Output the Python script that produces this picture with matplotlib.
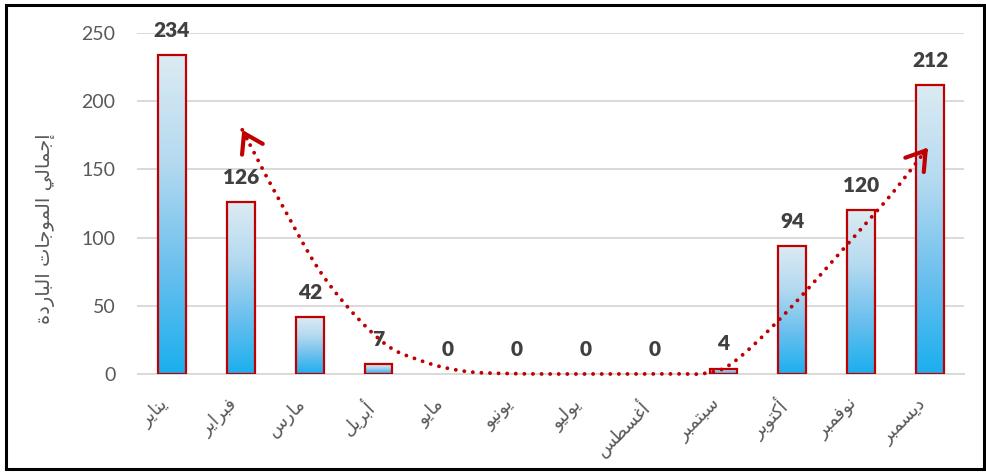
import numpy as np
import matplotlib
matplotlib.use("Agg")
import matplotlib.pyplot as plt
from matplotlib.colors import LinearSegmentedColormap
from matplotlib.patches import Rectangle

# ---- data -------------------------------------------------------------
months = ['يناير', 'فبراير', 'مارس', 'أبريل', 'مايو', 'يونيو',
          'يوليو', 'أغسطس', 'سبتمبر', 'أكتوبر', 'نوفمبر', 'ديسمبر']
cold_waves = [234, 126, 42, 7, 0, 0, 0, 0, 4, 94, 120, 212]
y_ticks = [0, 50, 100, 150, 200, 250]
y_title = 'إجمالي الموجات الباردة'

# hand-drawn seasonal trend guide (annotation path, data coordinates)
trend_x = [1.02, 1.52, 2.22, 3.02, 3.60, 4.22, 4.90, 6.00, 7.20, 7.76,
           8.17, 8.92, 9.94, 10.46, 10.97]
trend_y = [179, 131, 70, 25, 10, 2.2, 0.3, 0, 0.2, 0.7,
           9.5, 45.5, 103, 133, 166]

# ---- simple Arabic shaping (contextual forms + RTL order) -------------
_ISO = {  # letter: (isolated presentation form, dual-joining)
    'ا': (0xFE8D, False), 'أ': (0xFE83, False), 'إ': (0xFE87, False),
    'آ': (0xFE81, False), 'ب': (0xFE8F, True), 'ة': (0xFE93, False),
    'ت': (0xFE95, True), 'ث': (0xFE99, True), 'ج': (0xFE9D, True),
    'ح': (0xFEA1, True), 'خ': (0xFEA5, True), 'د': (0xFEA9, False),
    'ذ': (0xFEAB, False), 'ر': (0xFEAD, False), 'ز': (0xFEAF, False),
    'س': (0xFEB1, True), 'ش': (0xFEB5, True), 'ص': (0xFEB9, True),
    'ض': (0xFEBD, True), 'ط': (0xFEC1, True), 'ظ': (0xFEC5, True),
    'ع': (0xFEC9, True), 'غ': (0xFECD, True), 'ف': (0xFED1, True),
    'ق': (0xFED5, True), 'ك': (0xFED9, True), 'ل': (0xFEDD, True),
    'م': (0xFEE1, True), 'ن': (0xFEE5, True), 'ه': (0xFEE9, True),
    'و': (0xFEED, False), 'ى': (0xFEEF, False), 'ي': (0xFEF1, True),
}


def shape_ar(text):
    out = []
    n = len(text)
    for i, ch in enumerate(text):
        if ch not in _ISO:
            out.append(ch)
            continue
        base, dual = _ISO[ch]
        prev = text[i - 1] if i > 0 else None
        nxt = text[i + 1] if i < n - 1 else None
        j_prev = prev in _ISO and _ISO[prev][1]
        j_next = dual and nxt in _ISO
        if j_prev and j_next:
            code = base + 3
        elif j_prev:
            code = base + 1
        elif j_next:
            code = base + 2
        else:
            code = base
        out.append(chr(code))
    return ''.join(out)[::-1]


# ---- figure -----------------------------------------------------------
W, H, DPI = 987, 472, 100
fig = plt.figure(figsize=(W / DPI, H / DPI), dpi=DPI, facecolor='white')
ax = fig.add_axes([137.5 / W, 98 / H, 827 / W, 341 / H])

grey_txt = '#595959'
red = '#C00000'
ar_font = ['DejaVu Sans']
num_font = ['Lato', 'DejaVu Sans']

x = np.arange(len(months))
bar_w = 0.4
ax.set_xlim(-0.5, len(months) - 0.5)
ax.set_ylim(0, 250)

grad_cmap = LinearSegmentedColormap.from_list(
    'coldbar', ['#1AAFEE', '#6CC0EE', '#B5DAF0', '#DCEBF3'])
grad = np.linspace(0, 1, 256).reshape(-1, 1)

for xi, v in zip(x, cold_waves):
    if v <= 0:
        continue
    ax.imshow(grad, cmap=grad_cmap, origin='lower', aspect='auto',
              extent=[xi - bar_w / 2, xi + bar_w / 2, 0, v],
              zorder=2, interpolation='bicubic')
    ax.add_patch(Rectangle((xi - bar_w / 2, 0), bar_w, v, facecolor='none',
                           edgecolor=red, linewidth=1.6, zorder=3))

ax.set_xlim(-0.5, len(months) - 0.5)
ax.set_ylim(0, 250)
ax.set_aspect('auto')

# value labels
for xi, v in zip(x, cold_waves):
    ax.annotate(str(v), xy=(xi, v), xytext=(0, 13), textcoords='offset points',
                ha='center', va='baseline', fontsize=15, fontweight='heavy',
                color='#404040', family=num_font, annotation_clip=False,
                zorder=5)

# grid and axes
ax.set_yticks(y_ticks)
ax.yaxis.grid(True, color='#D9D9D9', linewidth=1.4, zorder=0)
ax.set_axisbelow(True)
for s in ['left', 'right', 'top']:
    ax.spines[s].set_visible(False)
ax.spines['bottom'].set_color('#D9D9D9')
ax.spines['bottom'].set_linewidth(1.4)
ax.tick_params(axis='both', length=0)
ax.tick_params(axis='y', labelsize=14, labelcolor=grey_txt, pad=16)
for lab in ax.get_yticklabels():
    lab.set_family(num_font)

ax.set_xticks(x)
ax.set_xticklabels([shape_ar(m) for m in months], rotation=45, ha='right',
                   va='top', fontsize=13, color=grey_txt, family=ar_font)
ax.tick_params(axis='x', pad=15)

fig.text(45 / W, 1 - 229 / H, shape_ar(y_title), rotation=90, ha='center',
         va='center', fontsize=14, color=grey_txt, family=ar_font)

# dotted trend guide with arrow heads at both ends
fig.canvas.draw()
pts = ax.transData.transform(np.column_stack([trend_x, trend_y]))
P = np.vstack([2 * pts[0] - pts[1], pts, 2 * pts[-1] - pts[-2]])
curve = []
for i in range(1, len(P) - 2):
    p0, p1, p2, p3 = P[i - 1], P[i], P[i + 1], P[i + 2]
    for t in np.linspace(0, 1, 30, endpoint=False):
        t2, t3 = t * t, t * t * t
        curve.append(0.5 * ((2 * p1) + (-p0 + p2) * t
                            + (2 * p0 - 5 * p1 + 4 * p2 - p3) * t2
                            + (-p0 + 3 * p1 - 3 * p2 + p3) * t3))
curve.append(P[-2])
curve = ax.transData.inverted().transform(np.array(curve))
ax.plot(curve[:, 0], curve[:, 1], color=red, linewidth=2.8,
        linestyle=(0, (0.01, 2.2)), dash_capstyle='round', zorder=4,
        clip_on=False)

arrow_kw = dict(arrowstyle='->,head_length=0.65,head_width=0.42', color=red,
                lw=3.0, mutation_scale=20, shrinkA=0, shrinkB=0)
ax.annotate('', xy=curve[0], xytext=curve[4], arrowprops=arrow_kw,
            annotation_clip=False, zorder=4)
ax.annotate('', xy=curve[-1], xytext=curve[-5], arrowprops=arrow_kw,
            annotation_clip=False, zorder=4)

# outer frame
fig.patches.append(Rectangle((6 / W, 3 / H), 978 / W, 464 / H,
                             transform=fig.transFigure, fill=False,
                             edgecolor='black', linewidth=2.2))

fig.savefig('out.png', dpi=DPI, facecolor='white')
